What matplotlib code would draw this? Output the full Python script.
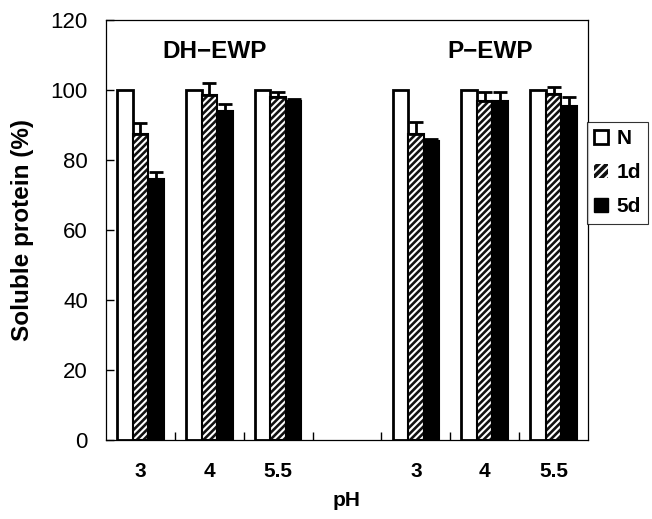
import matplotlib
matplotlib.use("Agg")
import matplotlib.pyplot as plt
import numpy as np
from matplotlib.patches import Patch

plt.rcParams['font.family'] = ['Liberation Sans', 'DejaVu Sans']
plt.rcParams['hatch.linewidth'] = 1.5

categories = ['3', '4', '5.5', '', '3', '4', '5.5']
groups = ['DH−EWP', 'P−EWP']
series = ['N', '1d', '5d']
vals_N = [100, 100, 100, None, 100, 100, 100]
vals_1d = [87.5, 98.5, 98.0, None, 87.5, 97.0, 99.0]
vals_5d = [74.5, 94.0, 97.0, None, 85.5, 97.0, 95.5]
err_1d = [3.0, 3.5, 1.5, None, 3.5, 2.5, 2.0]
err_5d = [2.0, 2.0, 0.5, None, 0.5, 2.5, 2.5]

fig = plt.figure(figsize=(6.52, 5.19), dpi=100)
ax = fig.add_axes([106/652, 1-440/519, (588-106)/652, (440-20)/519])

x = np.arange(len(categories))
mask = np.array([v is not None for v in vals_N])
xs = x[mask]
w = 0.226
def clean(a):
    return np.array([v for v in a if v is not None], dtype=float)

# N bars
ax.bar(xs - w, clean(vals_N), w, facecolor='white', edgecolor='black', linewidth=2, zorder=2)
# 1d bars: black with white hatch
ax.bar(xs, clean(vals_1d), w, facecolor='#111111', edgecolor='white', hatch='/////', linewidth=0, zorder=2)
ax.bar(xs, clean(vals_1d), w, fill=False, edgecolor='black', linewidth=1.5, zorder=3)
# 5d bars
ax.bar(xs + w, clean(vals_5d), w, facecolor='black', edgecolor='black', linewidth=1.5, zorder=2)

# error bars (upper only)
for off, v, e in [(0, vals_1d, err_1d), (w, vals_5d, err_5d)]:
    vv = clean(v); ee = clean(e)
    ax.errorbar(xs + off, vv, yerr=[np.zeros_like(ee), ee], fmt='none', ecolor='black',
                elinewidth=2, capsize=5, capthick=2, zorder=4)

ax.set_xlim(-0.5, len(categories) - 0.5)
ax.set_ylim(0, 120)
ax.set_yticks(np.arange(0, 121, 20))
ax.tick_params(axis='y', direction='in', length=6, width=1, labelsize=16, pad=13)
ax.set_xticks(x)
ax.set_xticklabels(categories, fontweight='bold', fontsize=15)
ax.tick_params(axis='x', which='major', length=0, pad=16)
ax.set_xticks(np.arange(0.5, len(categories) - 0.5, 1), minor=True)
ax.tick_params(axis='x', which='minor', direction='in', length=6, width=1)
for s in ax.spines.values():
    s.set_linewidth(0.9)

ax.set_ylabel('Soluble protein (%)', fontweight='bold', fontsize=17.5, labelpad=12)
ax.set_xlabel('pH', fontweight='bold', fontsize=15, labelpad=7)

ax.text(1.07, 111, groups[0], ha='center', va='center', fontweight='bold', fontsize=17.5)
ax.text(5.08, 111, groups[1], ha='center', va='center', fontweight='bold', fontsize=17.5)

handles = [Patch(facecolor='white', edgecolor='black', linewidth=2),
           Patch(facecolor='#111111', edgecolor='white', hatch='////', linewidth=0),
           Patch(facecolor='black', edgecolor='black')]
leg = fig.legend(handles, series, loc='upper left', bbox_to_anchor=(587/652, 1-122/519),
                 prop={'weight': 'bold', 'size': 15}, frameon=True, fancybox=False,
                 edgecolor='black', handlelength=0.65, handleheight=0.65, handletextpad=0.4,
                 borderpad=0.35, labelspacing=0.72, borderaxespad=0)
leg.get_frame().set_linewidth(0.8)

fig.savefig('out.png', dpi=100)
